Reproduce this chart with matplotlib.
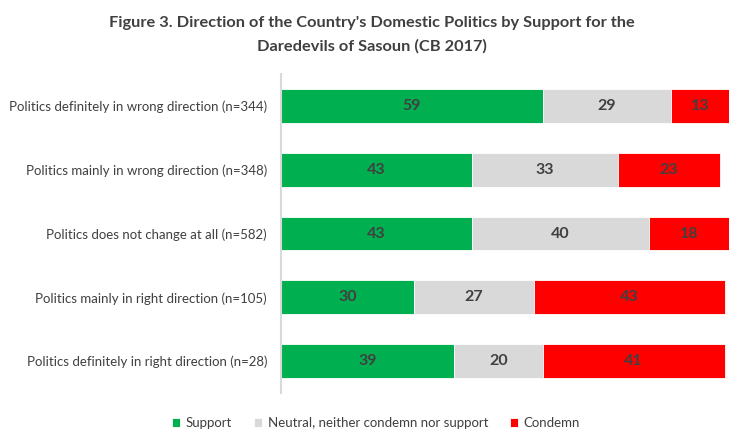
import numpy as np
import matplotlib.pyplot as plt

plt.rcParams["font.family"] = ["Lato", "DejaVu Sans"]

# categories top to bottom
categories = [
    "Politics definitely in wrong direction (n=344)",
    "Politics mainly in wrong direction (n=348)",
    "Politics does not change at all (n=582)",
    "Politics mainly in right direction (n=105)",
    "Politics definitely in right direction (n=28)",
]
support = [59, 43, 43, 30, 39]
neutral = [29, 33, 40, 27, 20]
condemn = [13, 23, 18, 43, 41]

series_names = ["Support", "Neutral, neither condemn nor support", "Condemn"]
colors = ["#00B050", "#D9D9D9", "#FF0000"]
text_col = "#404040"

fig = plt.figure(figsize=(7.43, 4.43), dpi=100)
ax = fig.add_axes([281 / 743, 1 - 393 / 443, (729 - 281) / 743, (393 - 74) / 443])

y = np.arange(len(categories))
left = np.zeros(len(categories))
for vals, name, col in zip([support, neutral, condemn], series_names, colors):
    vals = np.array(vals, dtype=float)
    bars = ax.barh(y, vals, left=left, height=0.53, color=col, label=name,
                   edgecolor="white", linewidth=0.6)
    for b, v in zip(bars, vals):
        ax.text(b.get_x() + b.get_width() / 2, b.get_y() + b.get_height() / 2,
                f"{v:.0f}", ha="center", va="center", fontsize=11.5,
                fontweight="bold", color=text_col)
    left += vals

ax.set_xlim(0, 101)
ax.set_ylim(len(categories) - 0.5, -0.5)
ax.set_yticks(y)
ax.set_yticklabels(categories, fontsize=9.5, color=text_col)
ax.tick_params(axis="y", length=0, pad=10)
ax.set_xticks([])
for s in ["top", "right", "bottom"]:
    ax.spines[s].set_visible(False)
ax.spines["left"].set_color("#D9D9D9")
ax.spines["left"].set_linewidth(1.5)

fig.text(0.5, 0.947, "Figure 3. Direction of the Country's Domestic Politics by Support for the",
         ha="center", va="center", fontsize=11.8, fontweight="bold", color="#404040")
fig.text(0.5, 0.896, "Daredevils of Sasoun (CB 2017)",
         ha="center", va="center", fontsize=11.8, fontweight="bold", color="#404040")

fig.legend(loc="center", bbox_to_anchor=(0.506, 1 - 423 / 443), ncol=3, frameon=False,
           fontsize=9.5, handlelength=0.65, handleheight=0.65, columnspacing=1.65,
           handletextpad=0.4, labelcolor=text_col)

fig.savefig("out.png", dpi=100)
